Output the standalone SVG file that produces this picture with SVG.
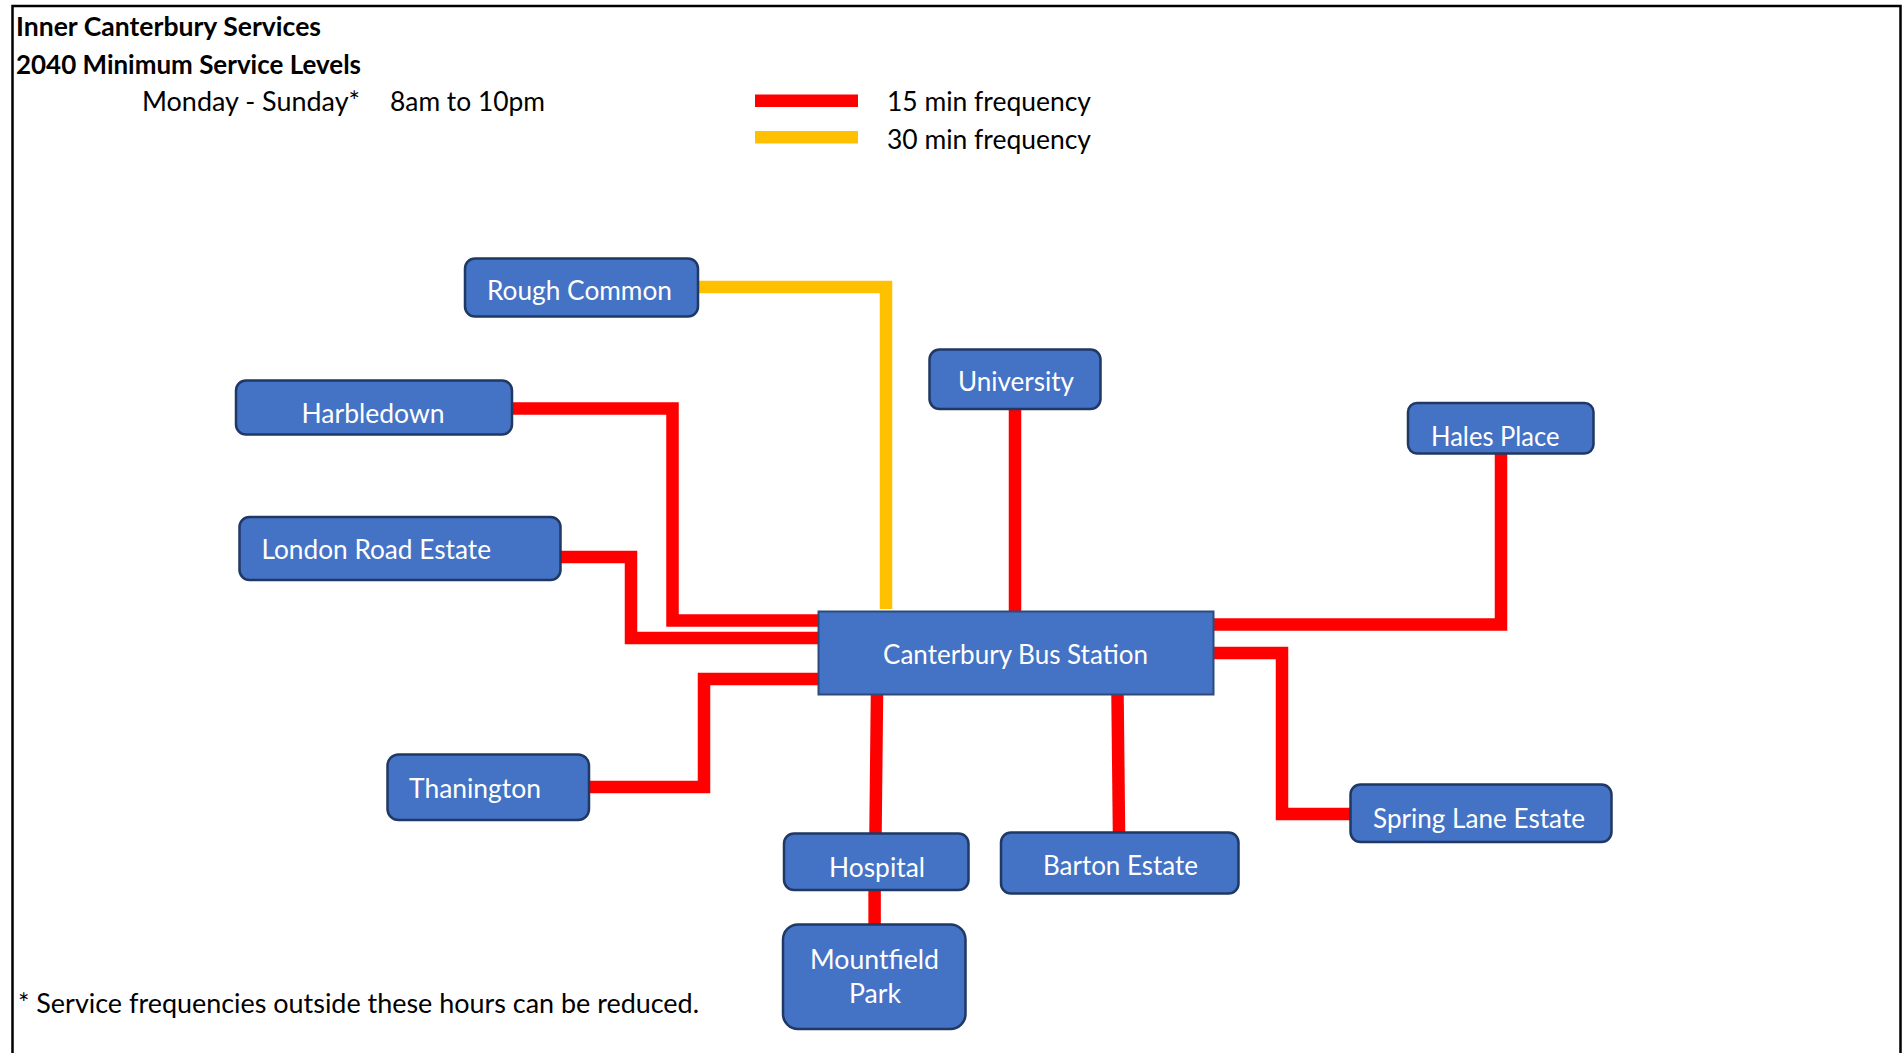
<svg xmlns="http://www.w3.org/2000/svg" width="1903" height="1053" viewBox="0 0 1903 1053">
<style>
text{font-family:Lato,"Liberation Sans",sans-serif;font-size:26px;fill:#000}
.hd{font-weight:700}
.lbl{fill:#fff}
.node{fill:#4472C4;stroke:#1F3864;stroke-width:2.5}
.hub{fill:#4472C4;stroke:#2F4A7A;stroke-width:2}
.red{fill:none;stroke:#FF0000;stroke-width:12.5;stroke-linejoin:miter}
.yel{fill:none;stroke:#FFC000;stroke-width:12.5;stroke-linejoin:miter}
</style>
<rect width="1903" height="1053" fill="#fff"/>
<path d="M12.5,1060 V6 H1900.5 V1060" fill="none" stroke="#000" stroke-width="2.5"/>

<g id="header">
<text class="hd" x="16" y="36" textLength="305" lengthAdjust="spacingAndGlyphs">Inner Canterbury Services</text>
<text class="hd" x="16" y="74" textLength="345" lengthAdjust="spacingAndGlyphs">2040 Minimum Service Levels</text>
<text x="142" y="111" textLength="218" lengthAdjust="spacingAndGlyphs">Monday - Sunday*</text>
<text x="390" y="111" textLength="155" lengthAdjust="spacingAndGlyphs">8am to 10pm</text>
</g>

<g id="legend">
<rect x="755" y="94.5" width="103" height="12.5" fill="#FF0000"/>
<rect x="755" y="131" width="103" height="12.5" fill="#FFC000"/>
<text x="887" y="111" textLength="204" lengthAdjust="spacingAndGlyphs">15 min frequency</text>
<text x="887" y="149" textLength="204" lengthAdjust="spacingAndGlyphs">30 min frequency</text>
</g>

<g id="connectors">
<path class="yel" d="M698,287 H886 V609"/>
<path class="red" d="M512,408.5 H672.5 V620.5 H818"/>
<path class="red" d="M561,557 H631 V638 H818"/>
<path class="red" d="M818,679 H704 V787 H589"/>
<path class="red" d="M1015,409 V611"/>
<path class="red" d="M1213,624.5 H1501 V453"/>
<path class="red" d="M1213,653 H1282 V814 H1351"/>
<path class="red" d="M877,694 L875.5,833"/>
<path class="red" d="M1117.5,694 L1119,832"/>
<path class="red" d="M874.6,890 V924"/>
</g>

<g id="rough-common">
<rect class="node" x="465" y="258.5" width="233" height="58" rx="10"/>
<text class="lbl" x="487" y="300" textLength="185" lengthAdjust="spacingAndGlyphs">Rough Common</text>
</g>
<g id="harbledown">
<rect class="node" x="236" y="380.5" width="276" height="54" rx="10"/>
<text class="lbl" x="301.5" y="423" textLength="143" lengthAdjust="spacingAndGlyphs">Harbledown</text>
</g>
<g id="london-road-estate">
<rect class="node" x="239.5" y="517" width="321" height="63" rx="10"/>
<text class="lbl" x="261.5" y="559" textLength="229.5" lengthAdjust="spacingAndGlyphs">London Road Estate</text>
</g>
<g id="university">
<rect class="node" x="929.5" y="349.5" width="171" height="59.5" rx="10"/>
<text class="lbl" x="958" y="391" textLength="116" lengthAdjust="spacingAndGlyphs">University</text>
</g>
<g id="hales-place">
<rect class="node" x="1408" y="403" width="185.5" height="50.5" rx="9"/>
<text class="lbl" x="1431" y="445.5" textLength="128.5" lengthAdjust="spacingAndGlyphs">Hales Place</text>
</g>
<g id="canterbury-bus-station">
<rect class="hub" x="818.5" y="611.5" width="395" height="83"/>
<text class="lbl" x="883" y="664" textLength="265" lengthAdjust="spacingAndGlyphs">Canterbury Bus Station</text>
</g>
<g id="thanington">
<rect class="node" x="387.5" y="754.5" width="201.5" height="65.5" rx="11"/>
<text class="lbl" x="409" y="797.5" textLength="132" lengthAdjust="spacingAndGlyphs">Thanington</text>
</g>
<g id="hospital">
<rect class="node" x="784" y="833.5" width="184.5" height="56.5" rx="10"/>
<text class="lbl" x="829" y="876.5" textLength="96" lengthAdjust="spacingAndGlyphs">Hospital</text>
</g>
<g id="barton-estate">
<rect class="node" x="1001" y="832.5" width="237.5" height="61" rx="10"/>
<text class="lbl" x="1043" y="874.5" textLength="155" lengthAdjust="spacingAndGlyphs">Barton Estate</text>
</g>
<g id="spring-lane-estate">
<rect class="node" x="1350.5" y="784.5" width="261" height="57.5" rx="10"/>
<text class="lbl" x="1373" y="827.5" textLength="212" lengthAdjust="spacingAndGlyphs">Spring Lane Estate</text>
</g>
<g id="mountfield-park">
<rect class="node" x="783" y="924.5" width="182.5" height="104.5" rx="15"/>
<text class="lbl" x="810" y="969" textLength="129" lengthAdjust="spacingAndGlyphs">Mountfield</text>
<text class="lbl" x="849" y="1003" textLength="52" lengthAdjust="spacingAndGlyphs">Park</text>
</g>

<g id="footnote">
<text x="18" y="1012.5" textLength="681" lengthAdjust="spacingAndGlyphs">* Service frequencies outside these hours can be reduced.</text>
</g>
</svg>
